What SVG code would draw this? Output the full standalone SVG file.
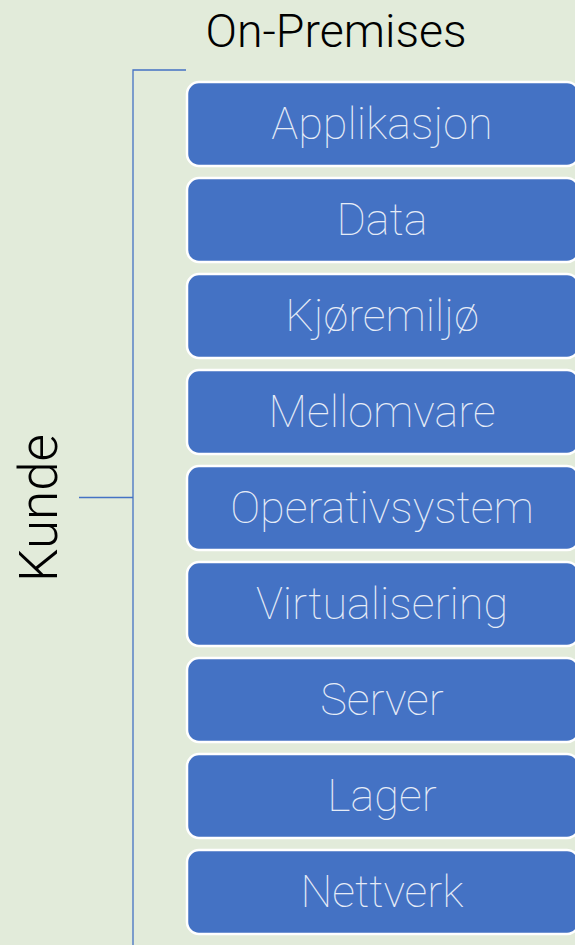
<svg xmlns="http://www.w3.org/2000/svg" width="575" height="945" viewBox="0 0 575 945">
<style>
.box{fill:#4472C4;stroke:#ffffff;stroke-width:2.5}
.lbl{font-family:Roboto,"Liberation Sans",sans-serif;font-weight:100;font-size:45px;fill:#e6ecf7;text-anchor:middle}
.ttl{font-family:Roboto,"Liberation Sans",sans-serif;font-weight:300;fill:#000}
.ln{stroke:#4472C4;stroke-width:1.3;fill:none}
</style>
<rect x="0" y="0" width="575" height="945" fill="#E2EBDA"/>
<text class="ttl" x="336" y="47" font-size="46.5" text-anchor="middle">On-Premises</text>
<g id="kunde"><text class="ttl" transform="translate(57,508) rotate(-90)" font-size="53" text-anchor="middle">Kunde</text></g>
<g id="connectors">
<path class="ln" d="M186,70 H133 V945"/>
<path class="ln" d="M79,497.5 H133"/>
</g>
<g id="applikasjon"><rect class="box" x="187" y="82" width="392" height="84" rx="12"/><text class="lbl" x="382" y="139">Applikasjon</text></g>
<g id="data"><rect class="box" x="187" y="178" width="392" height="84" rx="12"/><text class="lbl" x="382" y="235">Data</text></g>
<g id="kjoremiljo"><rect class="box" x="187" y="274" width="392" height="84" rx="12"/><text class="lbl" x="382" y="331">Kjøremiljø</text></g>
<g id="mellomvare"><rect class="box" x="187" y="370" width="392" height="84" rx="12"/><text class="lbl" x="382" y="427">Mellomvare</text></g>
<g id="operativsystem"><rect class="box" x="187" y="466" width="392" height="84" rx="12"/><text class="lbl" x="382" y="523">Operativsystem</text></g>
<g id="virtualisering"><rect class="box" x="187" y="562" width="392" height="84" rx="12"/><text class="lbl" x="382" y="619">Virtualisering</text></g>
<g id="server"><rect class="box" x="187" y="658" width="392" height="84" rx="12"/><text class="lbl" x="382" y="715">Server</text></g>
<g id="lager"><rect class="box" x="187" y="754" width="392" height="84" rx="12"/><text class="lbl" x="382" y="811">Lager</text></g>
<g id="nettverk"><rect class="box" x="187" y="850" width="392" height="84" rx="12"/><text class="lbl" x="382" y="907">Nettverk</text></g>
</svg>
